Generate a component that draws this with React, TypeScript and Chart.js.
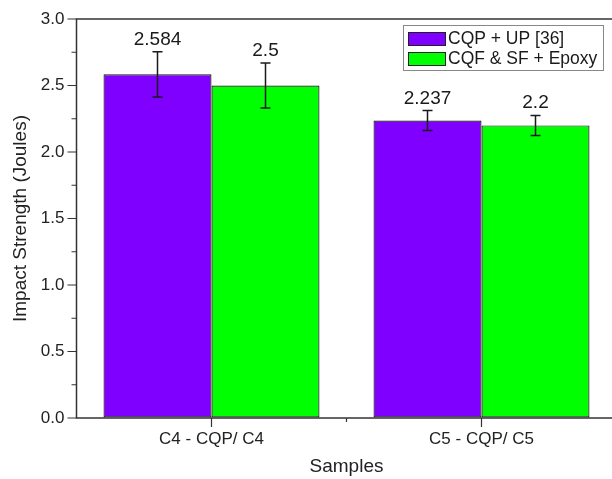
import React, { useEffect, useRef } from 'react';
import { Chart, registerables } from 'chart.js';

Chart.register(...registerables);

const categories = ['C4 - CQP/ C4', 'C5 - CQP/ C5'];
const seriesLabels = ['CQP + UP [36]', 'CQF & SF + Epoxy'];
const upValues = [2.584, 2.237];
const epoxyValues = [2.5, 2.2];
const upErrors = [0.17, 0.075];
const epoxyErrors = [0.17, 0.075];
const upValueText = ['2.584', '2.237'];
const epoxyValueText = ['2.5', '2.2'];
const yMajorTicks = [0, 0.5, 1.0, 1.5, 2.0, 2.5, 3.0];
const yMinorTicks = [0.25, 0.75, 1.25, 1.75, 2.25, 2.75];
const xTitle = 'Samples';
const yTitle = 'Impact Strength (Joules)';

const PURPLE = '#7F00FF';
const GREEN = '#00FF00';
const FONT = '"Liberation Sans", Arial, sans-serif';

const decor = {
  id: 'decor',
  afterDatasetsDraw(chart: any) {
    const ctx = chart.ctx;
    const ys = chart.scales.y;
    ctx.save();
    chart.data.datasets.forEach((ds: any, di: number) => {
      const meta = chart.getDatasetMeta(di);
      meta.data.forEach((bar: any, i: number) => {
        const v = ds.data[i];
        const e = ds.errorBars[i];
        const yt = ys.getPixelForValue(v + e);
        const yb = ys.getPixelForValue(v - e);
        const cx = bar.x;
        ctx.strokeStyle = '#1a1a1a';
        ctx.lineWidth = 1.5;
        ctx.beginPath();
        ctx.moveTo(cx, yt);
        ctx.lineTo(cx, yb);
        ctx.moveTo(cx - 5, yt);
        ctx.lineTo(cx + 5, yt);
        ctx.moveTo(cx - 5, yb);
        ctx.lineTo(cx + 5, yb);
        ctx.stroke();
        ctx.fillStyle = '#1a1a1a';
        ctx.font = `19px ${FONT}`;
        ctx.textAlign = 'center';
        ctx.textBaseline = 'alphabetic';
        ctx.fillText(ds.valueText[i], cx, yt - 7);
      });
    });
    ctx.restore();
  },
  afterDraw(chart: any) {
    const ctx = chart.ctx;
    const { left, right, top, bottom } = chart.chartArea;
    const ys = chart.scales.y;
    const xs = chart.scales.x;
    ctx.save();
    ctx.strokeStyle = '#333';
    ctx.lineWidth = 1.5;
    ctx.strokeRect(left, top, right - left, bottom - top);
    ctx.lineWidth = 1.2;
    ctx.beginPath();
    yMajorTicks.forEach((t) => {
      const py = ys.getPixelForValue(t);
      ctx.moveTo(left - 9, py);
      ctx.lineTo(left, py);
    });
    yMinorTicks.forEach((t) => {
      const py = ys.getPixelForValue(t);
      ctx.moveTo(left - 5, py);
      ctx.lineTo(left, py);
    });
    categories.forEach((_, i) => {
      const px = xs.getPixelForValue(i);
      ctx.moveTo(px, bottom);
      ctx.lineTo(px, bottom + 9);
    });
    for (let i = 0; i < categories.length - 1; i++) {
      const px = (xs.getPixelForValue(i) + xs.getPixelForValue(i + 1)) / 2;
      ctx.moveTo(px, bottom);
      ctx.lineTo(px, bottom + 4);
    }
    ctx.stroke();

    // legend
    const lx = 403, ly = 25, lw = 200, lh = 45;
    ctx.strokeStyle = '#888';
    ctx.lineWidth = 1;
    ctx.strokeRect(lx + 0.5, ly + 0.5, lw, lh);
    chart.data.datasets.forEach((ds: any, di: number) => {
      const sy = 32 + di * 20;
      ctx.fillStyle = ds.backgroundColor;
      ctx.fillRect(408, sy, 37, 13);
      ctx.strokeStyle = '#222';
      ctx.strokeRect(408.5, sy + 0.5, 37, 13);
      ctx.fillStyle = '#1a1a1a';
      ctx.font = `17.5px ${FONT}`;
      ctx.textAlign = 'left';
      ctx.textBaseline = 'middle';
      ctx.fillText(ds.label, 448, sy + 7);
    });
    ctx.restore();
  },
};

export default function App() {
  const ref = useRef<HTMLCanvasElement>(null);
  useEffect(() => {
    if (!ref.current) return;
    const chart = new Chart(ref.current, {
      type: 'bar',
      data: {
        labels: categories,
        datasets: [
          {
            label: seriesLabels[0],
            data: upValues,
            backgroundColor: PURPLE,
            borderColor: '#1a1a1a',
            borderWidth: 1.2,
            borderSkipped: false,
            categoryPercentage: 0.8,
            barPercentage: 1.0,
            errorBars: upErrors,
            valueText: upValueText,
          } as any,
          {
            label: seriesLabels[1],
            data: epoxyValues,
            backgroundColor: GREEN,
            borderColor: '#1a1a1a',
            borderWidth: 1.2,
            borderSkipped: false,
            categoryPercentage: 0.8,
            barPercentage: 1.0,
            errorBars: epoxyErrors,
            valueText: epoxyValueText,
          } as any,
        ],
      },
      options: {
        responsive: false,
        animation: false,
        layout: { padding: { left: 0, right: 23.5, top: 19, bottom: 0 } },
        plugins: { legend: { display: false }, tooltip: { enabled: false } },
        scales: {
          x: {
            type: 'category',
            offset: true,
            grid: { display: true, drawOnChartArea: false, drawTicks: false },
            border: { display: false },
            ticks: { color: '#222', font: { family: FONT, size: 17 }, padding: 11 },
            title: {
              display: true,
              text: xTitle,
              color: '#222',
              font: { family: FONT, size: 19 },
              padding: { top: 0, bottom: 1 },
            },
            afterFit: (s: any) => {
              s.height = 61;
              s.paddingLeft = 0;
              s.paddingRight = 0;
            },
          },
          y: {
            min: 0,
            max: 3,
            grid: { display: true, drawOnChartArea: false, drawTicks: false },
            border: { display: false },
            ticks: {
              stepSize: 0.5,
              color: '#222',
              font: { family: FONT, size: 17 },
              padding: 12,
              callback: (v: any) => Number(v).toFixed(1),
            },
            title: {
              display: true,
              text: yTitle,
              color: '#222',
              font: { family: FONT, size: 19 },
              padding: { top: 9, bottom: 0 },
            },
            afterFit: (s: any) => {
              s.width = 76.5;
              s.paddingTop = 0;
              s.paddingBottom = 0;
            },
          },
        },
      },
      plugins: [decor],
    });
    return () => chart.destroy();
  }, []);
  return (
    <div
      style={{
        position: 'fixed',
        left: 0,
        top: 0,
        width: 612,
        height: 479,
        overflow: 'hidden',
        background: '#fff',
      }}
    >
      <canvas ref={ref} width={640} height={479} style={{ display: 'block' }} />
    </div>
  );
}
